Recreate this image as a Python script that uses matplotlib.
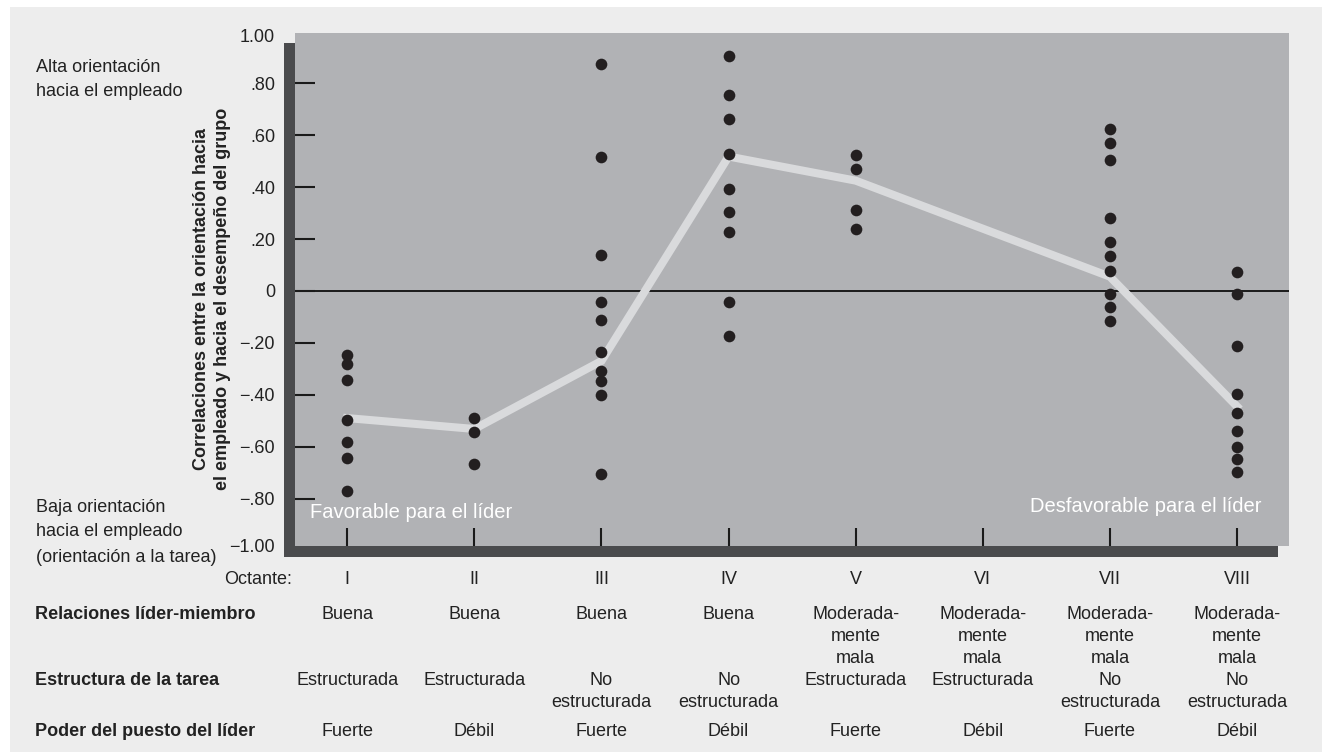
import matplotlib
matplotlib.use("Agg")
import matplotlib.pyplot as plt
import matplotlib.transforms as mtransforms
from matplotlib.patches import Rectangle
import numpy as np

plt.rcParams['font.family'] = ['Liberation Sans', 'DejaVu Sans']

# --- data ---
octants = ['I', 'II', 'III', 'IV', 'V', 'VI', 'VII', 'VIII']
points = [
    [-0.245, -0.283, -0.345, -0.499, -0.584, -0.644, -0.771],
    [-0.488, -0.544, -0.667],
    [0.876, 0.516, 0.138, -0.044, -0.111, -0.234, -0.309, -0.349, -0.400, -0.705],
    [0.904, 0.754, 0.664, 0.527, 0.393, 0.304, 0.227, -0.044, -0.173],
    [0.523, 0.471, 0.311, 0.239],
    [],
    [0.625, 0.571, 0.503, 0.282, 0.188, 0.133, 0.078, -0.013, -0.061, -0.117],
    [0.072, -0.013, -0.211, -0.398, -0.471, -0.539, -0.600, -0.649, -0.698],
]
median_line = [-0.49, -0.532, -0.27, 0.518, 0.425, np.nan, 0.055, -0.445]

ytick_vals = [0.8, 0.6, 0.4, 0.2, 0, -0.2, -0.4, -0.6, -0.8]
ytick_text = ['.80', '.60', '.40', '.20', '0', '\u2212.20', '\u2212.40', '\u2212.60', '\u2212.80']

row_names = ['Relaciones líder-miembro', 'Estructura de la tarea', 'Poder del puesto del líder']
relaciones = ['Buena'] * 4 + ['Moderada-\nmente\nmala'] * 4
estructura = ['Estructurada', 'Estructurada', 'No\nestructurada', 'No\nestructurada',
              'Estructurada', 'Estructurada', 'No\nestructurada', 'No\nestructurada']
poder = ['Fuerte', 'Débil'] * 4

W, H = 1322, 753
def fx(x):
    return x / W
def fy(y):
    return 1 - y / H

fig = plt.figure(figsize=(W / 100, H / 100), dpi=100, facecolor='white')

# panel background and the dark drop shadow behind the plot area
fig.add_artist(Rectangle((fx(10), fy(752)), fx(1312), (752 - 7) / H,
                         transform=fig.transFigure, facecolor='#ededed',
                         edgecolor='none', zorder=-3))
fig.add_artist(Rectangle((fx(284), fy(557)), fx(994), 514 / H,
                         transform=fig.transFigure, facecolor='#4a4b4d',
                         edgecolor='none', zorder=-2))

ax = fig.add_axes([fx(295), fy(546), fx(994), 513 / H])
ax.set_facecolor('#b1b2b5')
for s in ax.spines.values():
    s.set_visible(False)

x = np.arange(1, 9)
med = np.array(median_line)
ok = ~np.isnan(med)
ax.plot(x[ok], med[ok], color='#d9dadc', lw=5.8, solid_joinstyle='miter', zorder=2)
for i, vals in enumerate(points):
    ax.plot([x[i]] * len(vals), vals, 'o', color='#231f20', ms=8.4,
            mec='none', zorder=3)

ax.axhline(0, color='#1a1a1a', lw=1.4, zorder=1)

ax.set_xlim(0.589, 8.409)
ax.set_ylim(-0.983, 0.994)
ax.set_xticks(x)
ax.set_xticklabels([])
ax.tick_params(axis='x', direction='in', length=13, width=1.5, color='#1a1a1a')
ax.set_yticks(ytick_vals)
ax.set_yticklabels(ytick_text)
ax.tick_params(axis='y', direction='in', length=14.4, width=1.5, color='#1a1a1a',
               pad=14.4, labelsize=13, labelcolor='#222222')

txt = dict(color='#222222', fontsize=13)
fig.text(fx(275), fy(37.5), '1.00', ha='right', va='center', **txt)
fig.text(fx(275), fy(547), '\u22121.00', ha='right', va='center', **txt)

# left side notes
for y, s in [(68, 'Alta orientación'), (92, 'hacia el empleado'),
             (507, 'Baja orientación'), (532, 'hacia el empleado'),
             (557, '(orientación a la tarea)')]:
    fig.text(fx(36), fy(y), s, ha='left', va='center', **txt)

fig.text(fx(212), fy(299),
         'Correlaciones entre la orientación hacia\nel empleado y hacia el desempeño del grupo',
         rotation=90, ha='center', va='center', fontweight='bold', linespacing=1.3,
         **txt)

fig.text(fx(310), fy(512), 'Favorable para el líder', ha='left', va='center',
         color='white', fontsize=14.5)
fig.text(fx(1262), fy(506), 'Desfavorable para el líder', ha='right', va='center',
         color='white', fontsize=14.5)

# table under the chart
trans = mtransforms.blended_transform_factory(ax.transData, fig.transFigure)
fig.text(fx(292), fy(578) - 6.3 / H, 'Octante:', ha='right', va='baseline', **txt)
for i, o in enumerate(octants):
    fig.text(x[i], fy(578) - 6.3 / H, o, transform=trans, ha='center', va='baseline', **txt)

row_y = [613, 679, 730]
for name, yy, vals in zip(row_names, row_y, [relaciones, estructura, poder]):
    fig.text(fx(35), fy(yy) - 6.3 / H, name, ha='left', va='baseline',
             fontweight='bold', **txt)
    for i, v in enumerate(vals):
        for k, line in enumerate(v.split('\n')):
            fig.text(x[i], fy(yy + 21.7 * k) - 6.3 / H, line, transform=trans,
                     ha='center', va='baseline', **txt)

fig.savefig('out.png', dpi=100, facecolor='white')
